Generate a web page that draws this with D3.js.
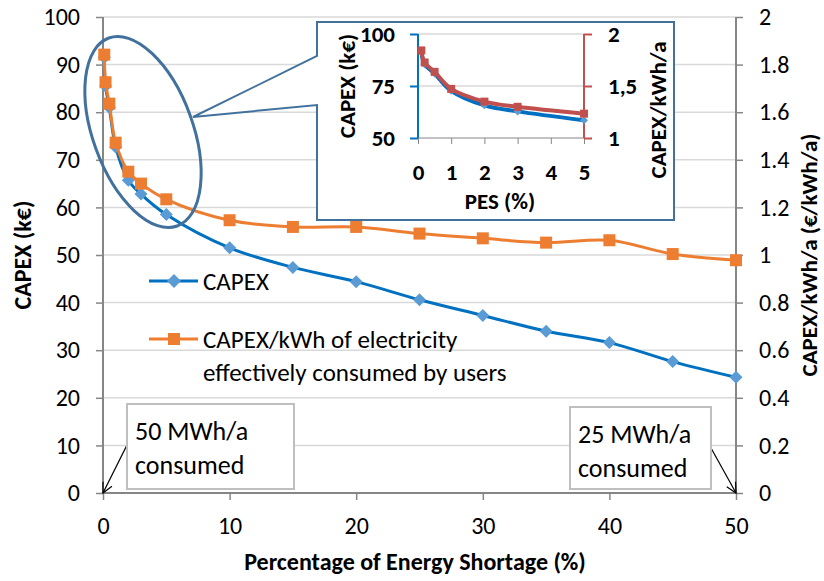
<!DOCTYPE html>
<html>
<head>
<meta charset="utf-8">
<script src="https://cdn.jsdelivr.net/npm/d3@7"></script>
<style>
  body { margin: 0; background: #fff; }
  text { font-family: Carlito, Lato, "Open Sans", sans-serif; fill: #000; }
</style>
</head>
<body>
<script>
// shortage levels (%)
var pes = [0.1, 0.2, 0.5, 1, 2, 3, 5, 10, 15, 20, 25, 30, 35, 40, 45, 50];
// CAPEX (k€)
var capex = [91.5, 85.5, 81.0, 72.7, 65.7, 62.8, 58.5, 51.5, 47.4, 44.4, 40.6, 37.3, 34.0, 31.6, 27.6, 24.3];
// CAPEX per kWh effectively consumed (€/kWh/a)
var capexKwh = [1.842, 1.726, 1.636, 1.472, 1.35, 1.30, 1.234, 1.146, 1.118, 1.118, 1.09, 1.07, 1.052, 1.062, 1.004, 0.978];
var xTicks = [0, 10, 20, 30, 40, 50];
var yTicks = [0, 10, 20, 30, 40, 50, 60, 70, 80, 90, 100];
var y2Ticks = [0, 0.2, 0.4, 0.6, 0.8, 1, 1.2, 1.4, 1.6, 1.8, 2];
var insetXTicks = [0, 1, 2, 3, 4, 5];
var insetYTicks = [50, 75, 100];
var insetY2Ticks = [1, 1.5, 2];

var W = 824, H = 581;
var blue = "#0070c0", blueMark = "#5b9bd5", orange = "#ed7d31", red = "#c0504d";
var axisGray = "#868686", gridGray = "#d9d9d9", calloutBlue = "#41719c";
var tickFont = "24px", titleFont = "24px";

var svg = d3.select("body").append("svg")
    .attr("width", W)
    .attr("height", H)
    .style("background", "#fff");

//main scales
var x = d3.scaleLinear().domain([0, 50]).range([103, 736]);
var y = d3.scaleLinear().domain([0, 100]).range([493, 17]);
var y2 = d3.scaleLinear().domain([0, 2]).range([493, 17]);

//gridlines
svg.append("g").selectAll("line")
    .data(yTicks.slice(1))
    .enter().append("line")
    .attr("x1", x(0)).attr("x2", x(50))
    .attr("y1", function (d) { return y(d); })
    .attr("y2", function (d) { return y(d); })
    .style("stroke", gridGray)
    .style("stroke-width", 1.5);

function styleAxis(g, color, width) {
    g.select(".domain").remove();
    g.selectAll(".tick line").style("stroke", color).style("stroke-width", width);
    g.attr("font-family", null).attr("font-size", null);
}

var fmtComma = function (d) { return String(d).replace(".", ","); };

svg.append("g")
    .attr("transform", "translate(0," + y(0) + ")")
    .call(d3.axisBottom(x).tickValues(xTicks).tickSize(7).tickPadding(17))
    .call(styleAxis, axisGray, 1.5)
    .selectAll("text").style("font-size", tickFont);

svg.append("g")
    .attr("transform", "translate(" + x(0) + ",0)")
    .call(d3.axisLeft(y).tickValues(yTicks).tickSize(7).tickPadding(16))
    .call(styleAxis, axisGray, 1.5)
    .selectAll("text").style("font-size", tickFont);

svg.append("g")
    .attr("transform", "translate(" + x(50) + ",0)")
    .call(d3.axisRight(y2).tickValues(y2Ticks).tickSize(7).tickPadding(16).tickFormat(function (d) { return String(d); }))
    .call(styleAxis, axisGray, 1.5)
    .selectAll("text").style("font-size", tickFont);

//axis lines
svg.append("line").attr("x1", x(0)).attr("x2", x(0)).attr("y1", y(100)).attr("y2", y(0))
    .style("stroke", axisGray).style("stroke-width", 2);
svg.append("line").attr("x1", x(50)).attr("x2", x(50)).attr("y1", y(100)).attr("y2", y(0))
    .style("stroke", axisGray).style("stroke-width", 2);
svg.append("line").attr("x1", x(0)).attr("x2", x(50)).attr("y1", y(0)).attr("y2", y(0))
    .style("stroke", axisGray).style("stroke-width", 2);

//axis titles
svg.append("text")
    .attr("x", 415).attr("y", 562).attr("dy", "0.35em")
    .attr("text-anchor", "middle")
    .style("font-weight", "bold").style("font-size", titleFont)
    .text("Percentage of Energy Shortage (%)");
svg.append("text")
    .attr("transform", "translate(23,255) rotate(-90)")
    .attr("dy", "0.35em").attr("text-anchor", "middle")
    .style("font-weight", "bold").style("font-size", titleFont)
    .text("CAPEX (k€)");
svg.append("text")
    .attr("transform", "translate(809,255) rotate(-90)")
    .attr("dy", "0.35em").attr("text-anchor", "middle")
    .style("font-weight", "bold").style("font-size", "23px")
    .text("CAPEX/kWh/a (€/kWh/a)");

var capexPts = pes.map(function (p, i) { return { x: p, v: capex[i] }; });
var kwhPts = pes.map(function (p, i) { return { x: p, v: capexKwh[i] }; });

function drawSeries(g, pts, xs, ys, color, markColor, markType, lineW, markSize) {
    var line = d3.line()
        .x(function (d) { return xs(d.x); })
        .y(function (d) { return ys(d.v); })
        .curve(d3.curveCatmullRom.alpha(0.5));
    g.append("path")
        .datum(pts)
        .attr("d", line)
        .style("fill", "none")
        .style("stroke", color)
        .style("stroke-width", lineW)
        .style("stroke-linejoin", "round");
    var m = g.append("g");
    pts.forEach(function (d) {
        if (markType === "square") {
            m.append("rect")
                .attr("x", xs(d.x) - markSize / 2).attr("y", ys(d.v) - markSize / 2)
                .attr("width", markSize).attr("height", markSize)
                .style("fill", markColor);
        } else {
            var s = markSize / 2 + 1;
            m.append("path")
                .attr("d", "M0," + (-s) + "L" + s + ",0L0," + s + "L" + (-s) + ",0Z")
                .attr("transform", "translate(" + xs(d.x) + "," + ys(d.v) + ")")
                .style("fill", markColor);
        }
    });
}

var main = svg.append("g");
drawSeries(main, capexPts, x, y, blue, blueMark, "diamond", 3, 11);
drawSeries(main, kwhPts, x, y2, orange, orange, "square", 3, 12);

//legend
var leg = svg.append("g");
leg.append("line").attr("x1", 149).attr("x2", 198).attr("y1", 281).attr("y2", 281)
    .style("stroke", blue).style("stroke-width", 3);
leg.append("path").attr("d", "M0,-7L7,0L0,7L-7,0Z").attr("transform", "translate(174,281)")
    .style("fill", blueMark);
leg.append("text").attr("x", 203).attr("y", 281).attr("dy", "0.35em")
    .style("font-size", "25px").text("CAPEX");
leg.append("line").attr("x1", 149).attr("x2", 198).attr("y1", 339).attr("y2", 339)
    .style("stroke", orange).style("stroke-width", 3);
leg.append("rect").attr("x", 168).attr("y", 333).attr("width", 12).attr("height", 12)
    .style("fill", orange);
leg.append("text").attr("x", 203).attr("y", 339).attr("dy", "0.35em")
    .style("font-size", "25px").text("CAPEX/kWh of electricity");
leg.append("text").attr("x", 203).attr("y", 372).attr("dy", "0.35em")
    .style("font-size", "25px").text("effectively consumed by users");

//annotation boxes with arrows
svg.append("defs").append("marker")
    .attr("id", "arrow")
    .attr("viewBox", "0 0 12 12")
    .attr("refX", 11).attr("refY", 6)
    .attr("markerWidth", 12).attr("markerHeight", 12)
    .attr("markerUnits", "userSpaceOnUse")
    .attr("orient", "auto")
    .append("path")
    .attr("d", "M1,1L11,6L1,11")
    .style("fill", "none").style("stroke", "#000").style("stroke-width", 1.2);

function note(x0, y0, w, h, lines, ax, ay, tx, ty) {
    svg.append("line")
        .attr("x1", ax).attr("y1", ay).attr("x2", tx).attr("y2", ty)
        .style("stroke", "#000").style("stroke-width", 1.2)
        .attr("marker-end", "url(#arrow)");
    svg.append("rect")
        .attr("x", x0).attr("y", y0).attr("width", w).attr("height", h)
        .style("fill", "#fff").style("stroke", "#bfbfbf").style("stroke-width", 2);
    lines.forEach(function (t, i) {
        svg.append("text")
            .attr("x", x0 + 8).attr("y", y0 + 27 + i * 34).attr("dy", "0.35em")
            .style("font-size", "26px").text(t);
    });
}
note(127, 404, 167, 85, ["50 MWh/a", "consumed"], 127, 445, x(0), y(0));
note(570, 407, 141, 82, ["25 MWh/a", "consumed"], 711, 448, x(50), y(0));

//ellipse around the low shortage region
svg.append("ellipse")
    .attr("cx", 143).attr("cy", 132)
    .attr("rx", 50).attr("ry", 100)
    .attr("transform", "rotate(-20,143,132)")
    .style("fill", "none").style("stroke", calloutBlue).style("stroke-width", 3);

//callout box
svg.append("path")
    .attr("d", "M317,22H674V220H317V105L193,117L317,56Z")
    .style("fill", "#fff").style("stroke", calloutBlue).style("stroke-width", 2);

//inset chart
var ix = d3.scaleLinear().domain([0, 5]).range([418, 584]);
var iy = d3.scaleLinear().domain([50, 100]).range([138, 34]);
var iy2 = d3.scaleLinear().domain([1, 2]).range([138, 34]);
var inset = svg.append("g");

inset.selectAll(".igrid")
    .data(insetYTicks.slice(1))
    .enter().append("line")
    .attr("x1", ix(0)).attr("x2", ix(5))
    .attr("y1", function (d) { return iy(d); })
    .attr("y2", function (d) { return iy(d); })
    .style("stroke", gridGray).style("stroke-width", 1.5);

inset.append("g")
    .attr("transform", "translate(0," + iy(50) + ")")
    .call(d3.axisBottom(ix).tickValues(insetXTicks).tickSize(6).tickPadding(20).tickFormat(d3.format("d")))
    .call(styleAxis, axisGray, 1)
    .selectAll("text").style("font-size", "23px").style("font-weight", "bold");
inset.append("line").attr("x1", ix(0)).attr("x2", ix(5)).attr("y1", iy(50)).attr("y2", iy(50))
    .style("stroke", axisGray).style("stroke-width", 1);

inset.append("g")
    .attr("transform", "translate(" + ix(0) + ",0)")
    .call(d3.axisLeft(iy).tickValues(insetYTicks).tickSize(8).tickPadding(15))
    .call(styleAxis, blue, 2)
    .selectAll("text").style("font-size", "23px").style("font-weight", "bold");
inset.append("line").attr("x1", ix(0)).attr("x2", ix(0)).attr("y1", iy(100)).attr("y2", iy(50))
    .style("stroke", blue).style("stroke-width", 2);

inset.append("g")
    .attr("transform", "translate(" + ix(5) + ",0)")
    .call(d3.axisRight(iy2).tickValues(insetY2Ticks).tickSize(8).tickPadding(16).tickFormat(fmtComma))
    .call(styleAxis, red, 2)
    .selectAll("text").style("font-size", "23px").style("font-weight", "bold");
inset.append("line").attr("x1", ix(5)).attr("x2", ix(5)).attr("y1", iy(100)).attr("y2", iy(50))
    .style("stroke", red).style("stroke-width", 2);

var insetCapex = capexPts.filter(function (d) { return d.x <= 5; });
var insetKwh = kwhPts.filter(function (d) { return d.x <= 5; });
drawSeries(inset, insetCapex, ix, iy, blue, blueMark, "diamond", 4, 6);
drawSeries(inset, insetKwh, ix, iy2, red, red, "square", 4, 8);

inset.append("text")
    .attr("x", 500).attr("y", 201).attr("dy", "0.35em").attr("text-anchor", "middle")
    .style("font-weight", "bold").style("font-size", "23px").text("PES (%)");
inset.append("text")
    .attr("transform", "translate(347,86) rotate(-90)")
    .attr("dy", "0.35em").attr("text-anchor", "middle")
    .style("font-weight", "bold").style("font-size", "23px").text("CAPEX (k€)");
inset.append("text")
    .attr("transform", "translate(658,110) rotate(-90)")
    .attr("dy", "0.35em").attr("text-anchor", "middle")
    .style("font-weight", "bold").style("font-size", "23px").text("CAPEX/kWh/a");
</script>
</body>
</html>
